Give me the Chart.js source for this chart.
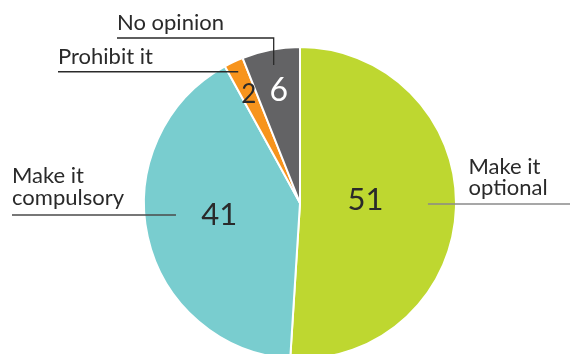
<!DOCTYPE html>
<html lang="en">
  <head>
    <meta charset="UTF-8" />
    <title>Opinion pie</title>
    <script src="https://cdn.jsdelivr.net/npm/chart.js"></script>
    <style>
      html, body { margin: 0; padding: 0; background: #fff; overflow: hidden; }
      #wrap { width: 570px; height: 370px; }
    </style>
  </head>
  <body>
    <div id="wrap"><canvas id="pie"></canvas></div>
    <script>
      const categories = ["Make it optional", "Make it compulsory", "Prohibit it", "No opinion"];
      const values = [51, 41, 2, 6];
      const colors = ["#bed730", "#79cdcf", "#f7941d", "#636365"];
      const labelLines = [["Make it", "optional"], ["Make it", "compulsory"], ["Prohibit it"], ["No opinion"]];

      const FONT = "Lato, 'Open Sans', sans-serif";
      const TEXT = "#2a2a2a";

      // value inside each slice: radial distance (fraction of r), size, colour
      const valueStyle = [
        { d: 0.42, size: 31, color: TEXT, dy: -5 },
        { d: 0.53, size: 31, color: TEXT, dy: -6 },
        { d: 0.77, size: 26, color: TEXT, dy: 0 },
        { d: 0.73, size: 32, color: "#ffffff", dy: 0 },
      ];

      function drawLabels(chart) {
        const ctx = chart.ctx;
        const arcs = chart.getDatasetMeta(0).data;
        const cx = arcs[0].x, cy = arcs[0].y, r = arcs[0].outerRadius;

        ctx.save();
        ctx.textAlign = "center";
        ctx.textBaseline = "middle";
        arcs.forEach((arc, i) => {
          const mid = (arc.startAngle + arc.endAngle) / 2;
          const s = valueStyle[i];
          ctx.font = s.size + "px " + FONT;
          ctx.fillStyle = s.color;
          ctx.fillText(String(values[i]), cx + Math.cos(mid) * r * s.d, cy + Math.sin(mid) * r * s.d + s.dy);
        });

        const pt = (i, f) => {
          const a = arcs[i];
          const mid = (a.startAngle + a.endAngle) / 2;
          return [cx + Math.cos(mid) * r * f, cy + Math.sin(mid) * r * f];
        };

        ctx.font = "22px " + FONT;
        ctx.textAlign = "left";
        ctx.textBaseline = "alphabetic";
        ctx.fillStyle = TEXT;
        ctx.lineWidth = 1.3;

        // Make it optional: line from inside the slice out to the right edge
        {
          const y = cy + 1;
          const x0 = cx + r * 0.82;
          ctx.strokeStyle = "#8a8a8a";
          ctx.beginPath(); ctx.moveTo(x0, y); ctx.lineTo(chart.width, y); ctx.stroke();
          ctx.fillText(labelLines[0][0], cx + r * 1.08, y - 30);
          ctx.fillText(labelLines[0][1], cx + r * 1.08, y - 9);
        }
        // Make it compulsory
        {
          const y = cy + 12;
          const x1 = cx - r * 0.795;
          ctx.strokeStyle = "#4a4a4a";
          ctx.beginPath(); ctx.moveTo(12, y); ctx.lineTo(x1, y); ctx.stroke();
          ctx.fillText(labelLines[1][0], 12, y - 32);
          ctx.fillText(labelLines[1][1], 12, y - 10);
        }
        // Prohibit it
        {
          const [x1, y] = pt(2, 0.93);
          ctx.strokeStyle = "#2a2a2a";
          ctx.beginPath(); ctx.moveTo(58, y); ctx.lineTo(x1, y); ctx.stroke();
          ctx.fillText(labelLines[2][0], 58, y - 8);
        }
        // No opinion: elbow line
        {
          const [x1, y1] = pt(3, 0.9);
          const y = 38;
          ctx.strokeStyle = "#2a2a2a";
          ctx.beginPath(); ctx.moveTo(117, y); ctx.lineTo(x1, y); ctx.lineTo(x1, y1); ctx.stroke();
          ctx.fillText(labelLines[3][0], 117, y - 8);
        }
        ctx.restore();
      }

      new Chart(document.getElementById("pie"), {
        type: "pie",
        data: {
          labels: categories,
          datasets: [
            {
              data: values,
              backgroundColor: colors,
              borderColor: "#ffffff",
              borderWidth: 2,
            },
          ],
        },
        options: {
          responsive: true,
          maintainAspectRatio: false,
          animation: false,
          layout: { padding: { left: 143, right: 113, top: 46, bottom: 10 } },
          plugins: { legend: { display: false }, tooltip: { enabled: false } },
        },
        plugins: [{ id: "sliceLabels", afterDraw: drawLabels }],
      });
    </script>
  </body>
</html>
